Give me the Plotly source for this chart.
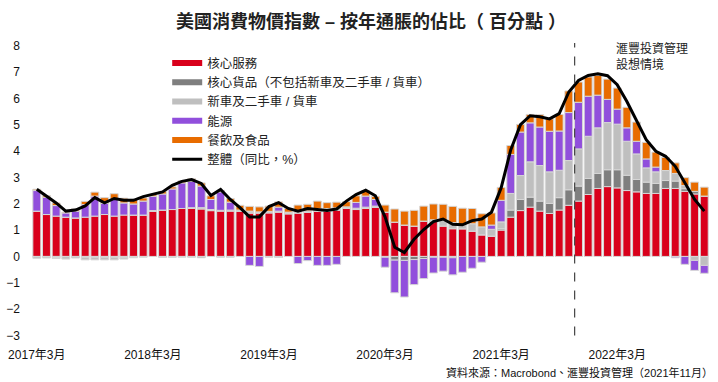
import plotly.graph_objects as go

months = [
    "2017-03", "2017-04", "2017-05", "2017-06", "2017-07", "2017-08", "2017-09", "2017-10", "2017-11", "2017-12",
    "2018-01", "2018-02", "2018-03", "2018-04", "2018-05", "2018-06", "2018-07", "2018-08", "2018-09", "2018-10",
    "2018-11", "2018-12", "2019-01", "2019-02", "2019-03", "2019-04", "2019-05", "2019-06", "2019-07", "2019-08",
    "2019-09", "2019-10", "2019-11", "2019-12", "2020-01", "2020-02", "2020-03", "2020-04", "2020-05", "2020-06",
    "2020-07", "2020-08", "2020-09", "2020-10", "2020-11", "2020-12", "2021-01", "2021-02", "2021-03", "2021-04",
    "2021-05", "2021-06", "2021-07", "2021-08", "2021-09", "2021-10", "2021-11", "2021-12", "2022-01", "2022-02",
    "2022-03", "2022-04", "2022-05", "2022-06", "2022-07", "2022-08", "2022-09", "2022-10", "2022-11", "2022-12",
]

core_services = [
    1.72, 1.59, 1.53, 1.49, 1.46, 1.49, 1.53, 1.59, 1.53, 1.57,
    1.57, 1.57, 1.72, 1.76, 1.78, 1.82, 1.82, 1.80, 1.74, 1.72,
    1.72, 1.72, 1.65, 1.65, 1.65, 1.68, 1.62, 1.65, 1.68, 1.72,
    1.72, 1.76, 1.82, 1.78, 1.82, 1.87, 1.68, 1.30, 1.19, 1.15,
    1.34, 1.34, 1.15, 1.05, 1.05, 0.96, 0.82, 0.77, 1.00, 1.49,
    1.74, 1.87, 1.72, 1.63, 1.76, 1.94, 2.10, 2.35, 2.58, 2.65,
    2.60, 2.50, 2.45, 2.39, 2.39, 2.58, 2.58, 2.47, 2.37, 2.29,
]

core_goods = [
    0.00, 0.00, -0.04, 0.00, 0.00, -0.03, -0.03, -0.03, -0.03, -0.05,
    0.00, 0.00, 0.00, 0.00, 0.00, 0.00, -0.03, -0.05, 0.00, -0.03,
    -0.03, 0.00, 0.00, 0.00, -0.03, -0.04, 0.00, 0.00, 0.00, 0.00,
    0.00, 0.00, 0.00, 0.00, 0.00, 0.00, -0.03, -0.14, -0.15, -0.12,
    -0.08, -0.03, -0.03, -0.05, 0.00, 0.00, 0.00, 0.00, 0.05, 0.27,
    0.42, 0.38, 0.38, 0.38, 0.47, 0.59, 0.57, 0.61, 0.57, 0.64,
    0.69, 0.58, 0.47, 0.43, 0.38, 0.30, 0.28, 0.10, 0.10, 0.00,
]

cars = [
    -0.07, -0.06, -0.04, -0.10, -0.06, -0.10, -0.10, -0.10, -0.10, -0.05,
    -0.05, -0.03, 0.02, -0.04, -0.04, -0.03, 0.03, 0.05, 0.04, 0.03,
    0.04, 0.04, 0.07, 0.04, 0.06, 0.04, 0.06, 0.05, 0.05, 0.10,
    0.10, 0.08, 0.06, 0.05, 0.05, 0.04, 0.00, 0.00, 0.00, 0.00,
    0.00, 0.05, 0.23, 0.23, 0.16, 0.28, 0.30, 0.26, 0.26, 0.63,
    0.91, 1.34, 1.35, 1.20, 1.04, 1.11, 1.41, 1.60, 1.73, 1.79,
    1.73, 1.29, 0.97, 0.54, 0.44, 0.38, 0.29, 0.12, -0.15, -0.34,
]

energy = [
    0.78, 0.66, 0.40, 0.16, 0.26, 0.48, 0.76, 0.42, 0.65, 0.46,
    0.42, 0.53, 0.54, 0.61, 0.78, 0.97, 1.00, 0.82, 0.38, 0.70,
    0.30, 0.00, -0.34, -0.38, 0.00, 0.15, 0.00, -0.27, -0.16, -0.34,
    -0.34, -0.30, 0.00, 0.22, 0.42, 0.25, -0.38, -1.24, -1.39, -0.95,
    -0.76, -0.60, -0.53, -0.65, -0.60, -0.45, -0.22, 0.16, 0.82, 1.48,
    1.65, 1.48, 1.46, 1.54, 1.49, 1.82, 1.77, 1.52, 1.24, 0.88,
    0.57, 0.51, 0.48, 0.34, 0.18, 0.00, -0.05, -0.30, -0.38, -0.30,
]

food = [
    0.05, 0.06, 0.10, 0.03, 0.10, 0.12, 0.15, 0.22, 0.20, 0.18,
    0.18, 0.12, 0.06, 0.09, 0.08, 0.08, 0.10, 0.12, 0.14, 0.06,
    0.14, 0.18, 0.18, 0.19, 0.20, 0.20, 0.14, 0.25, 0.25, 0.28,
    0.22, 0.22, 0.20, 0.25, 0.20, 0.12, 0.27, 0.50, 0.53, 0.60,
    0.57, 0.60, 0.60, 0.62, 0.62, 0.58, 0.50, 0.46, 0.49, 0.34,
    0.29, 0.32, 0.47, 0.47, 0.63, 0.82, 0.77, 0.73, 0.75, 0.77,
    0.80, 0.78, 0.73, 0.63, 0.57, 0.50, 0.40, 0.30, 0.35, 0.34,
]

headline = [
    2.55, 2.28, 2.03, 1.72, 1.76, 1.92, 2.23, 2.03, 2.20, 2.13,
    2.13, 2.27, 2.36, 2.45, 2.70, 2.85, 2.92, 2.77, 2.31, 2.54,
    2.16, 1.85, 1.50, 1.50, 1.89, 2.04, 1.82, 1.72, 1.82, 1.78,
    1.74, 1.80, 2.10, 2.35, 2.51, 2.30, 1.50, 0.35, 0.15, 0.65,
    1.02, 1.32, 1.42, 1.22, 1.20, 1.36, 1.42, 1.68, 2.60, 4.05,
    5.00, 5.34, 5.30, 5.22, 5.42, 6.24, 6.68, 6.87, 6.93, 6.86,
    6.52, 5.88, 5.13, 4.43, 3.99, 3.80, 3.42, 2.79, 2.16, 1.72,
]

series_names = ["核心服務", "核心貨品（不包括新車及二手車 / 貨車）", "新車及二手車 / 貨車", "能源", "餐飲及食品"]
series_values = [core_services, core_goods, cars, energy, food]
series_colors = ["#d9001b", "#7f7f7f", "#bfbfbf", "#914fdc", "#e86c00"]
line_name = "整體（同比，%）"

tick_months = ["2017-03", "2018-03", "2019-03", "2020-03", "2021-03", "2022-03"]
tick_labels = ["2017年3月", "2018年3月", "2019年3月", "2020年3月", "2021年3月", "2022年3月"]
y_ticks = [8, 7, 6, 5, 4, 3, 2, 1, 0, -1, -2, -3]

FONT = "Liberation Sans, Arial, 'Noto Sans CJK TC', sans-serif"

fig = go.Figure()
for name, vals, col in zip(series_names, series_values, series_colors):
    fig.add_trace(go.Bar(
        x=months, y=vals, name=name, marker=dict(color=col, line=dict(color="#d6d6d6", width=1)),
        showlegend=False,
    ))
fig.add_trace(go.Scatter(
    x=months, y=headline, mode="lines", name=line_name,
    line=dict(color="#000000", width=3), showlegend=False,
))

# legend proxies
for name, col in zip(series_names, series_colors):
    fig.add_trace(go.Scatter(x=[None], y=[None], mode="lines", name=name,
                             line=dict(color=col, width=6)))
fig.add_trace(go.Scatter(x=[None], y=[None], mode="lines", name=line_name,
                         line=dict(color="#000000", width=3)))

fig.add_shape(type="line", xref="x", yref="y", x0=55.6, x1=55.6, y0=-3, y1=8.1,
              line=dict(color="#444444", width=1.2, dash="dash"))

fig.update_layout(
    width=718, height=382,
    margin=dict(l=25, r=6, t=43, b=46),
    paper_bgcolor="white", plot_bgcolor="white",
    barmode="relative", bargap=0.18,
    font=dict(family=FONT, size=12, color="#222222"),
    title=dict(text="<b>美國消費物價指數 – 按年通脹的佔比（ 百分點 ）</b>", x=(368 - 25) / 687, xref="paper",
               y=1 - 22 / 382, yref="container", xanchor="center", yanchor="middle",
               font=dict(size=18, color="#222222")),
    legend=dict(x=0.2, y=0.982, xanchor="left", yanchor="top", bgcolor="rgba(0,0,0,0)",
                font=dict(size=12.5, color="#222222"), tracegroupgap=0, itemwidth=30),
    xaxis=dict(type="category", categoryorder="array", categoryarray=months,
               range=[-0.6, 69.8], tickmode="array", tickvals=tick_months, ticktext=tick_labels,
               showgrid=False, showline=False, zeroline=False, ticks="",
               tickfont=dict(size=12, color="#111111"), ticklabelstandoff=10),
    yaxis=dict(range=[-3.02, 8.1], tickmode="array", tickvals=y_ticks,
               showgrid=False, showline=False, zeroline=False, ticks="",
               tickfont=dict(size=12, color="#111111"), ticklabelstandoff=10),
    annotations=[
        dict(text="滙豐投資管理<br>設想情境", xref="paper", yref="paper", x=(613 - 25) / 687, y=1.015,
             xanchor="left", yanchor="top", showarrow=False, align="left",
             font=dict(size=12, color="#222222")),
        dict(text="資料來源：Macrobond、滙豐投資管理（2021年11月）", xref="paper", yref="paper",
             x=1.005, y=-0.095, xanchor="right", yanchor="top", showarrow=False,
             font=dict(size=11, color="#111111")),
    ],
)

fig.write_html("out.html", config={"displayModeBar": False},
               post_script="document.body.style.margin='0';document.body.style.overflow='hidden';")
